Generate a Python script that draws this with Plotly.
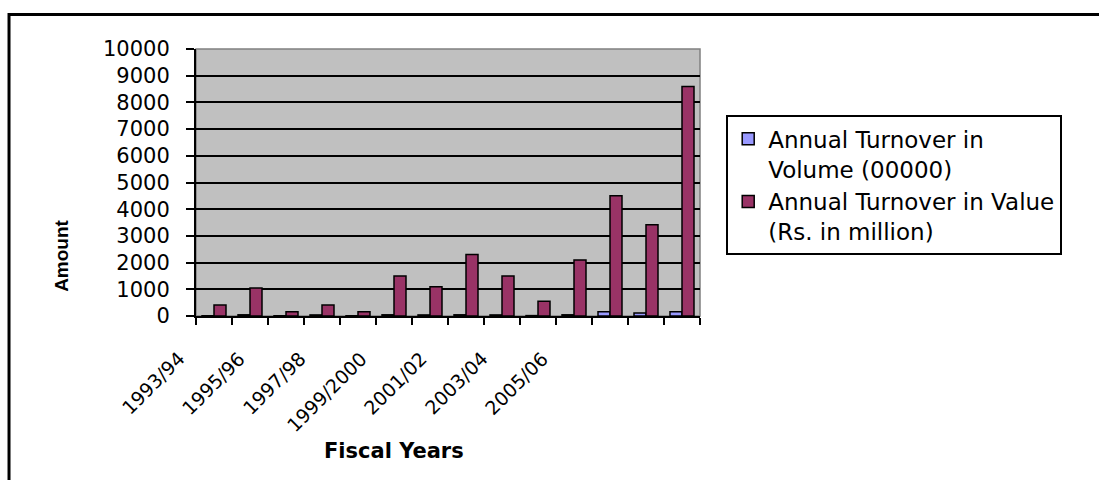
import plotly.graph_objects as go

# Fiscal years and annual turnover figures
fiscal_years = ["1993/94", "1994/95", "1995/96", "1996/97", "1997/98", "1998/99",
                "1999/2000", "2000/01", "2001/02", "2002/03", "2003/04", "2004/05",
                "2005/06", "2006/07"]
turnover_volume = [10, 45, 10, 40, 10, 45, 40, 45, 40, 15, 45, 160, 110, 160]
turnover_value = [410, 1050, 160, 410, 160, 1500, 1100, 2300, 1500, 550, 2100, 4500, 3420, 8600]
y_ticks = list(range(0, 10001, 1000))
y_tick_text = [str(v) for v in y_ticks]

VOLUME_NAME = "Annual Turnover in<br>Volume (00000)"
VALUE_NAME = "Annual Turnover in Value<br>(Rs. in million)"

n = len(fiscal_years)
positions = list(range(n))

fig = go.Figure()
fig.add_trace(go.Bar(
    x=positions, y=turnover_volume, name=VOLUME_NAME, legendgroup="vol",
    marker=dict(color="#9999FF", line=dict(color="black", width=1.5)),
    hovertext=fiscal_years,
))
fig.add_trace(go.Bar(
    x=positions, y=turnover_value, name=VALUE_NAME, legendgroup="val",
    marker=dict(color="#993366", line=dict(color="black", width=1.5)),
    hovertext=fiscal_years,
))

# Every other fiscal year is labelled below the axis, drawn at 45 degrees.
# Label anchors are spaced slightly tighter than the categories themselves.
LABEL_SCALE = 0.842
LABEL_SHIFT = -0.62
annotations = []
for i in range(0, n, 2):
    x_data = LABEL_SHIFT + i * LABEL_SCALE
    annotations.append(dict(
        x=(x_data + 0.5) / n, y=-0.108, xref="paper", yref="paper",
        text=fiscal_years[i], showarrow=False, textangle=-45,
        xanchor="right", yanchor="top",
        font=dict(family="DejaVu Sans", size=19, color="black"),
    ))

annotations.append(dict(
    x=-0.266, y=0.225, xref="paper", yref="paper", text="<b>Amount</b>",
    showarrow=False, textangle=-90, xanchor="center", yanchor="middle",
    font=dict(family="Liberation Sans", size=19, color="black"),
))
annotations.append(dict(
    x=0.393, y=-0.506, xref="paper", yref="paper", text="<b>Fiscal Years</b>",
    showarrow=False, xanchor="center", yanchor="middle",
    font=dict(family="DejaVu Sans", size=21, color="black"),
))

shapes = [
    # grey frame of the plot area (top and right show grey)
    dict(type="rect", xref="paper", yref="paper", x0=0, x1=1, y0=0, y1=1,
         line=dict(color="#808080", width=1.5), layer="below"),
    # outer chart border
    dict(type="rect", xref="paper", yref="paper", x0=-0.371, x1=1.9, y0=-0.7, y1=1.129,
         line=dict(color="black", width=3)),
]

fig.update_layout(
    width=1099, height=480,
    margin=dict(l=196, r=399, t=49, b=164),
    paper_bgcolor="white", plot_bgcolor="#C0C0C0",
    barmode="group", bargap=1/3, bargroupgap=0,
    showlegend=True,
    legend=dict(
        x=1.052, y=0.752, xanchor="left", yanchor="top",
        bgcolor="white", bordercolor="black", borderwidth=2,
        font=dict(family="DejaVu Sans", size=23, color="black"),
        valign="top", tracegroupgap=2, traceorder="normal",
    ),
    annotations=annotations,
    shapes=shapes,
    font=dict(family="DejaVu Sans", color="black"),
)

fig.update_xaxes(
    range=[-0.5, n - 0.5],
    tickmode="array", tickvals=[p - 0.5 for p in positions] + [n - 0.5],
    showticklabels=False, ticks="outside", ticklen=7, tickwidth=1.5, tickcolor="black",
    showline=True, linecolor="black", linewidth=2, showgrid=False, zeroline=False,
)
fig.update_yaxes(
    range=[0, 10000], tickmode="array", tickvals=y_ticks, ticktext=y_tick_text,
    ticks="outside", ticklen=8, tickwidth=1.5, tickcolor="black",
    ticklabelstandoff=12,
    tickfont=dict(family="DejaVu Sans", size=21, color="black"),
    showline=True, linecolor="black", linewidth=2,
    showgrid=True, gridcolor="black", gridwidth=1.5, zeroline=False,
)

fig.write_html("out.html")
